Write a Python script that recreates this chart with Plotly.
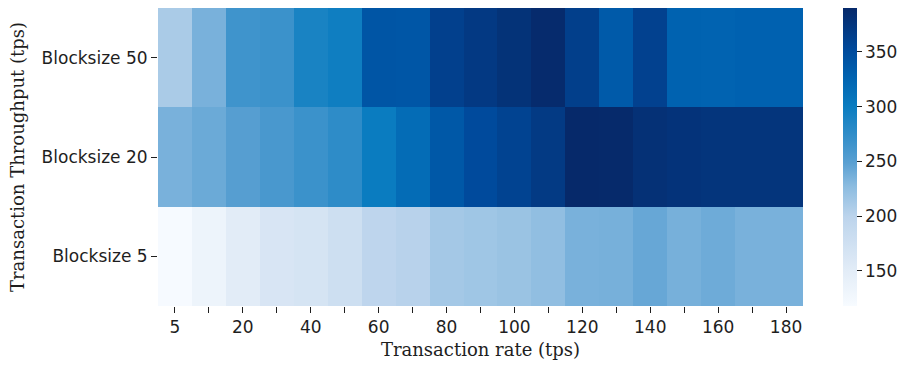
import plotly.graph_objects as go

# Transaction rate sent to the network (tps)
rates = [5, 10, 20, 30, 40, 50, 60, 70, 80, 90, 100, 110, 120, 130, 140, 150, 160, 170, 180]
rate_labels = ["5", "", "20", "", "40", "", "60", "", "80", "", "100", "", "120", "", "140", "", "160", "", "180"]

blocksizes = ["Blocksize 5", "Blocksize 20", "Blocksize 50"]

# Measured transaction throughput (tps) per block size
throughput_bs5 = [120, 134, 150, 164, 167, 178, 197, 202, 213, 216, 219, 224, 235, 236, 243, 236, 240, 235, 235]
throughput_bs20 = [235, 241, 251, 259, 268, 276, 300, 317, 338, 352, 360, 370, 390, 389, 381, 378, 376, 376, 376]
throughput_bs50 = [210, 235, 265, 268, 290, 297, 341, 340, 363, 371, 379, 388, 365, 336, 362, 327, 326, 328, 328]

cbar_ticks = [150, 200, 250, 300, 350]
zmin, zmax = 118, 390

blues = [
    [0.00, "#f7fbff"],
    [0.12, "#e2ecf7"],
    [0.30, "#bcd4ec"],
    [0.40, "#8cbce0"],
    [0.48, "#5aa0d2"],
    [0.58, "#2e8cc8"],
    [0.67, "#0a7cc0"],
    [0.77, "#0062b0"],
    [0.86, "#004a9c"],
    [1.00, "#06296a"],
]

text_color = "#1e1e1e"
sans = "DejaVu Sans"
serif = "DejaVu Serif"

fig = go.Figure(
    go.Heatmap(
        x=[str(r) for r in rates],
        y=blocksizes,
        z=[throughput_bs5, throughput_bs20, throughput_bs50],
        zmin=zmin,
        zmax=zmax,
        colorscale=blues,
        xgap=0,
        ygap=0,
        colorbar=dict(
            thickness=14,
            len=1.0,
            lenmode="fraction",
            y=0.5,
            yanchor="middle",
            x=1.062,
            xanchor="left",
            xpad=0,
            ypad=0,
            outlinewidth=0,
            ticks="outside",
            ticklen=5,
            tickwidth=1.2,
            tickcolor=text_color,
            tickvals=cbar_ticks,
            tickfont=dict(family=sans, size=17, color=text_color),
        ),
    )
)

fig.update_layout(
    width=906,
    height=370,
    margin=dict(l=158, r=103, t=8, b=64),
    paper_bgcolor="white",
    plot_bgcolor="white",
    font=dict(family=sans, color=text_color),
)

fig.update_xaxes(
    type="category",
    tickmode="array",
    tickvals=[str(r) for r in rates],
    ticktext=rate_labels,
    ticks="outside",
    ticklen=6,
    tickwidth=1.2,
    tickcolor=text_color,
    tickfont=dict(family=sans, size=17, color=text_color),
    showgrid=False,
    zeroline=False,
    showline=False,
    title=dict(text="Transaction rate (tps)", font=dict(family=serif, size=18, color=text_color), standoff=6),
)

fig.update_yaxes(
    type="category",
    ticks="outside",
    ticklen=6,
    tickwidth=1.2,
    tickcolor=text_color,
    tickfont=dict(family=sans, size=17, color=text_color),
    showgrid=False,
    zeroline=False,
    showline=False,
    title=dict(text="Transaction Throughput (tps)", font=dict(family=serif, size=18, color=text_color), standoff=12),
)

fig.write_html("out.html")
